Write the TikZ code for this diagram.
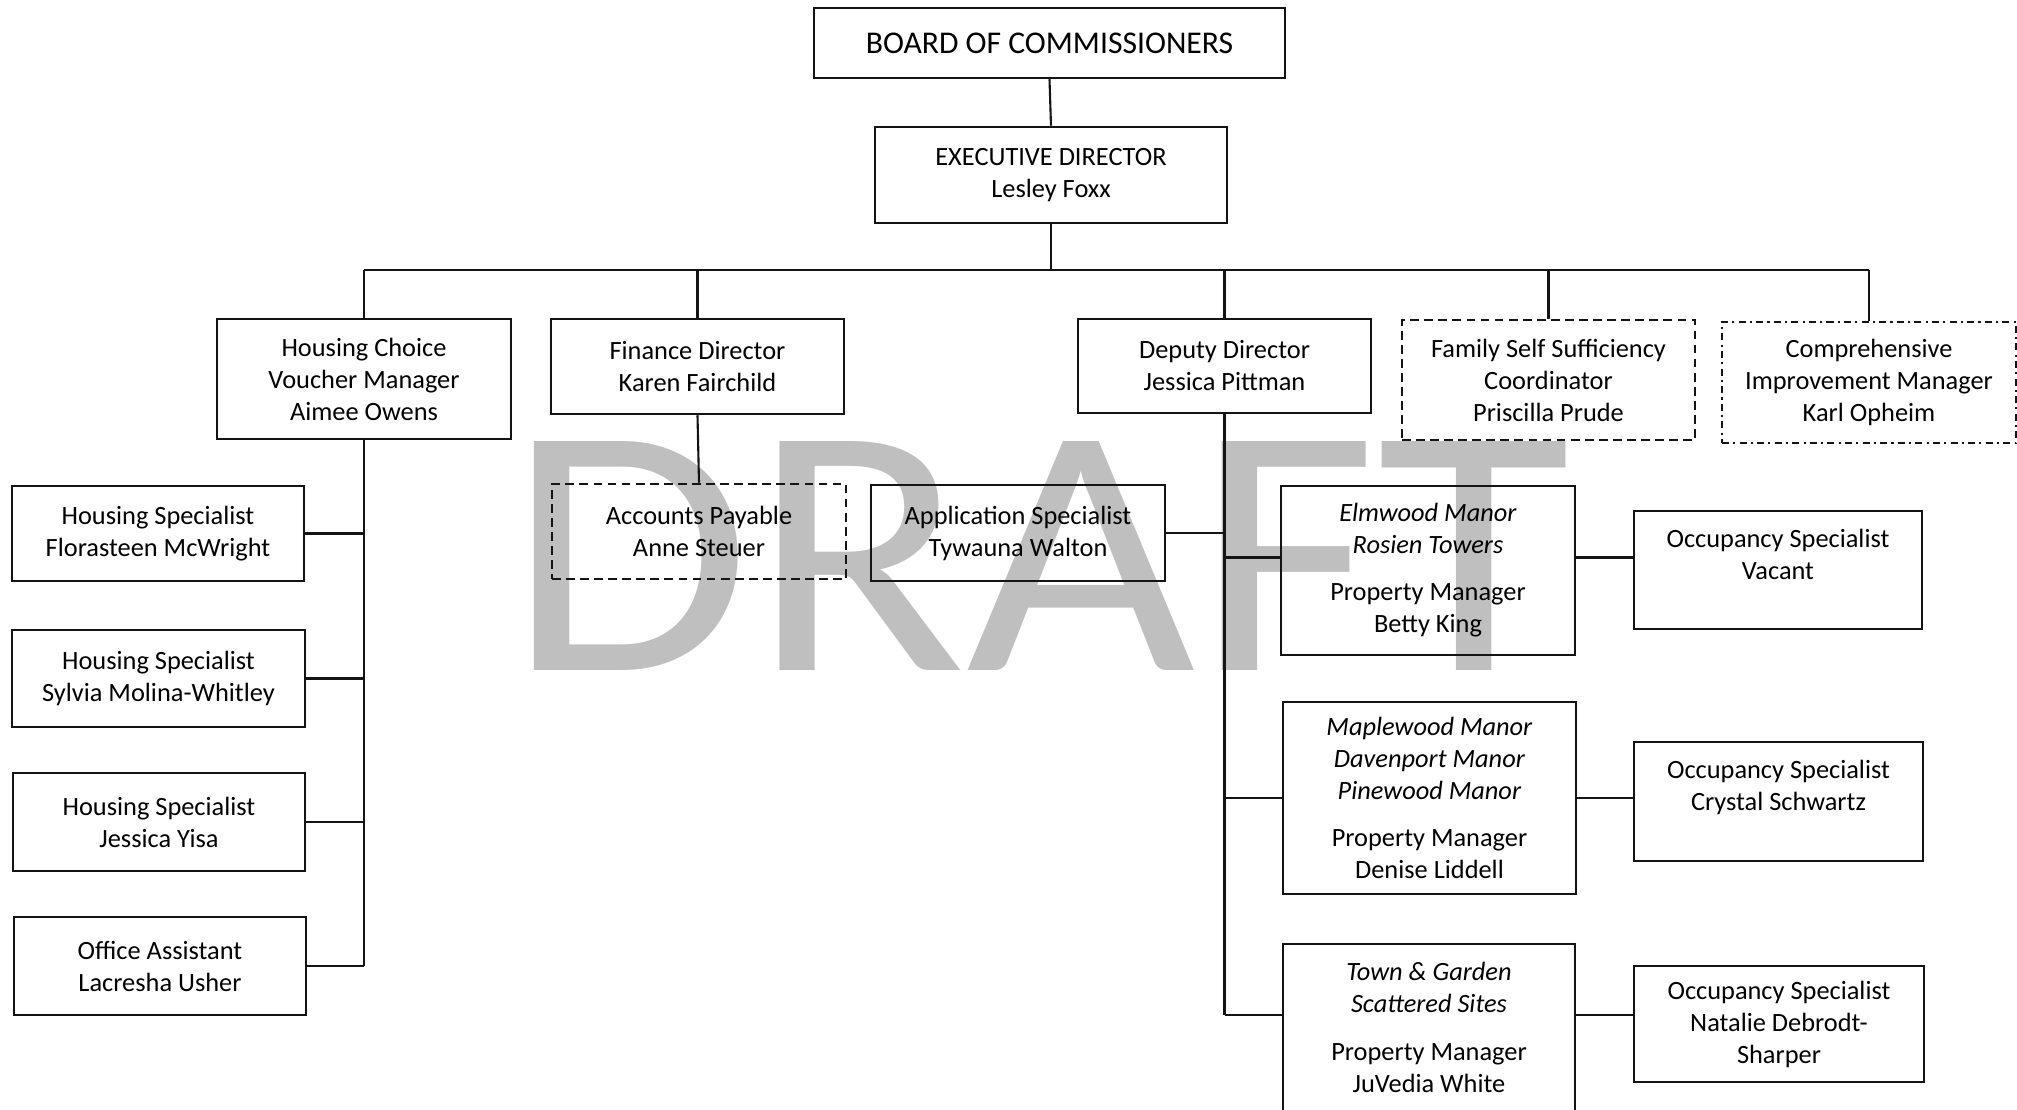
\documentclass[tikz,border=0pt]{standalone}
\usepackage{fontspec}
\setmainfont{Carlito}
\usepackage{xcolor}
\usepackage{tikz}
\definecolor{figline}{RGB}{20,20,20}
\definecolor{figmark}{RGB}{191,191,191}
\tikzset{
  box/.style  ={draw=figline, line width=0.7pt, align=center, inner sep=0pt, font=\fontsize{7.5}{9.1}\selectfont},
  dbox/.style ={box, dash pattern=on 2.5pt off 1.5pt},
  ddbox/.style={box, dash pattern=on 2pt off 1.2pt on 0.6pt off 1.2pt},
  conn/.style ={draw=figline, line width=0.6pt},
  wm/.style   ={text=figmark, font=\fontsize{101.5}{101.5}\selectfont, inner sep=0pt, xscale=1.11},
}

\begin{document}
\begin{tikzpicture}[x=0.01cm,y=-0.01cm]
  \useasboundingbox (0,0) rectangle (2017,1110);
  \node[wm,anchor=base] (draft) at (1039,671) {DRAFT};
  \node[box,minimum width=4.71cm,minimum height=0.70cm,font=\fontsize{9}{11}\selectfont] (board) at (1049.5,43) {BOARD OF COMMISSIONERS};
  \node[box,minimum width=3.52cm,minimum height=0.96cm] (exec) at (1051,175) {EXECUTIVE DIRECTOR\\Lesley Foxx};
  \coordinate (bus) at (1051,270);
  \node[box,minimum width=2.94cm,minimum height=1.20cm] (hcv) at (364,379) {Housing Choice\\Voucher Manager\\Aimee Owens};
  \node[box,minimum width=2.93cm,minimum height=0.95cm] (fin) at (697.5,366.5) {Finance Director\\Karen Fairchild};
  \node[box,minimum width=2.93cm,minimum height=0.94cm] (dep) at (1224.5,366) {Deputy Director\\Jessica Pittman};
  \node[dbox,minimum width=2.93cm,minimum height=1.20cm] (fss) at (1548.5,380) {Family Self Sufficiency\\Coordinator\\Priscilla Prude};
  \node[ddbox,minimum width=2.94cm,minimum height=1.21cm] (cim) at (1869,382.5) {Comprehensive\\Improvement Manager\\Karl Opheim};
  \node[box,minimum width=2.92cm,minimum height=0.95cm] (hs1) at (158,533.5) {Housing Specialist\\Florasteen McWright};
  \node[box,minimum width=2.93cm,minimum height=0.97cm] (hs2) at (158.5,678.5) {Housing Specialist\\Sylvia Molina-Whitley};
  \node[box,minimum width=2.92cm,minimum height=0.98cm] (hs3) at (159,822) {Housing Specialist\\Jessica Yisa};
  \node[box,minimum width=2.92cm,minimum height=0.98cm] (oa) at (160,966) {Office Assistant\\Lacresha Usher};
  \node[dbox,minimum width=2.94cm,minimum height=0.95cm] (ap) at (699,531.5) {Accounts Payable\\Anne Steuer};
  \node[box,minimum width=2.94cm,minimum height=0.96cm] (app) at (1018,533) {Application Specialist\\Tywauna Walton};
  \node[box,minimum width=2.94cm,minimum height=1.69cm] (elm) at (1428,570.5) {\textit{Elmwood Manor}\\\textit{Rosien Towers}\\[4.3pt]Property Manager\\Betty King};
  \node[box,minimum width=2.93cm,minimum height=1.92cm] (maple) at (1429.5,798) {\textit{Maplewood Manor}\\\textit{Davenport Manor}\\\textit{Pinewood Manor}\\[4.3pt]Property Manager\\Denise Liddell};
  \node[box,minimum width=2.92cm,minimum height=1.67cm] (town) at (1429,1027.5) {\textit{Town \& Garden}\\\textit{Scattered Sites}\\[4.3pt]Property Manager\\JuVedia White};
  \node[box,minimum width=2.88cm,minimum height=1.18cm] (occ1) at (1778,570) {Occupancy Specialist\\Vacant\\~};
  \node[box,minimum width=2.89cm,minimum height=1.19cm] (occ2) at (1778.5,801.5) {Occupancy Specialist\\Crystal Schwartz\\~};
  \node[box,minimum width=2.90cm,minimum height=1.16cm] (occ3) at (1779,1024) {Occupancy Specialist\\Natalie Debrodt-\\Sharper};
  \draw[conn] (board.south) -- (exec.north);
  \draw[conn] (exec.south) -- (bus);
  \draw[conn] (hcv.north |- bus) -- (cim.north |- bus);
  \draw[conn] (hcv.north |- bus) -- (hcv.north);
  \draw[conn] (fin.north |- bus) -- (fin.north);
  \draw[conn] (dep.north |- bus) -- (dep.north);
  \draw[conn] (fss.north |- bus) -- (fss.north);
  \draw[conn] (cim.north |- bus) -- (cim.north);
  \draw[conn] (hcv.south) -- (hcv.south |- oa.east);
  \draw[conn] (hs1.east) -- (hs1.east -| hcv.south);
  \draw[conn] (hs2.east) -- (hs2.east -| hcv.south);
  \draw[conn] (hs3.east) -- (hs3.east -| hcv.south);
  \draw[conn] (oa.east) -- (oa.east -| hcv.south);
  \draw[conn] (fin.south) -- (ap.north);
  \draw[conn] (dep.south) -- ([yshift=0.125cm]dep.south |- town.west);
  \draw[conn] (app.east) -- (app.east -| dep.south);
  \draw[conn] ([yshift=0.13cm]elm.west) -- ([yshift=0.13cm]elm.west -| dep.south);
  \draw[conn] (maple.west) -- (maple.west -| dep.south);
  \draw[conn] ([yshift=0.125cm]town.west) -- ([yshift=0.125cm]town.west -| dep.south);
  \draw[conn] ([yshift=0.13cm]elm.east) -- ([yshift=0.13cm]elm.east -| occ1.west);
  \draw[conn] (maple.east) -- (maple.east -| occ2.west);
  \draw[conn] ([yshift=0.125cm]town.east) -- ([yshift=0.125cm]town.east -| occ3.west);
\end{tikzpicture}
\end{document}
